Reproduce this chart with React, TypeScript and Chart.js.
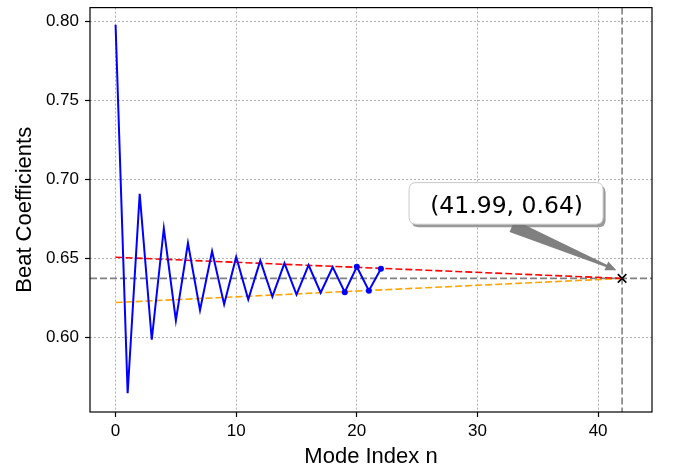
import React, { useEffect, useRef } from 'react';
import { Chart, registerables } from 'chart.js';

Chart.register(...registerables);

// ---- data ----
const modeIndex = [0, 1, 2, 3, 4, 5, 6, 7, 8, 9, 10, 11, 12, 13, 14, 15, 16, 17, 18, 19, 20, 21, 22];
const beatCoefficients = [
  0.798, 0.5644, 0.6908, 0.5983, 0.6689, 0.6106, 0.6596, 0.6171, 0.6544, 0.6208, 0.6508, 0.6238,
  0.6485, 0.6256, 0.6469, 0.6269, 0.6456, 0.6281, 0.6444, 0.6285, 0.6446, 0.6294, 0.6433,
];
const markedFromIndex = 19;
const envelopeX = [0, 41.99];
const upperEnvelope = [0.6506, 0.6372];
const lowerEnvelope = [0.6219, 0.6372];
const limitX = 41.99;
const limitY = 0.6372;
const limitLabel = '(41.99, 0.64)';
const xTicks = [0, 10, 20, 30, 40];
const yTicks = [0.6, 0.65, 0.7, 0.75, 0.8];
const xLimits = [-2.12, 44.47];
const yLimits = [0.5525, 0.8089];
const xTitle = 'Mode Index n';
const yTitle = 'Beat Coefficients';

const SANS = "'Liberation Sans', Arial, sans-serif";

function roundRectPath(ctx: CanvasRenderingContext2D, x: number, y: number, w: number, h: number, r: number) {
  ctx.beginPath();
  ctx.moveTo(x + r, y);
  ctx.lineTo(x + w - r, y);
  ctx.quadraticCurveTo(x + w, y, x + w, y + r);
  ctx.lineTo(x + w, y + h - r);
  ctx.quadraticCurveTo(x + w, y + h, x + w - r, y + h);
  ctx.lineTo(x + r, y + h);
  ctx.quadraticCurveTo(x, y + h, x, y + h - r);
  ctx.lineTo(x, y + r);
  ctx.quadraticCurveTo(x, y, x + r, y);
  ctx.closePath();
}

const overlayPlugin = {
  id: 'overlay',
  beforeDatasetsDraw(chart: any) {
    const { ctx, chartArea: a, scales } = chart;
    const px = scales.x.getPixelForValue(limitX);
    const py = scales.y.getPixelForValue(limitY);
    ctx.save();
    ctx.beginPath();
    ctx.rect(a.left, a.top, a.right - a.left, a.bottom - a.top);
    ctx.clip();
    ctx.strokeStyle = '#808080';
    ctx.lineWidth = 1.6;
    ctx.setLineDash([7, 3]);
    ctx.beginPath();
    ctx.moveTo(a.left, py);
    ctx.lineTo(a.right, py);
    ctx.stroke();
    ctx.beginPath();
    ctx.moveTo(px, a.top);
    ctx.lineTo(px, a.bottom);
    ctx.stroke();
    ctx.restore();
  },
  afterDraw(chart: any) {
    const { ctx, chartArea: a, scales } = chart;
    // frame
    ctx.save();
    ctx.strokeStyle = '#000';
    ctx.lineWidth = 1.2;
    ctx.setLineDash([]);
    ctx.strokeRect(a.left, a.top, a.right - a.left, a.bottom - a.top);
    ctx.restore();

    // annotation
    const px = scales.x.getPixelForValue(limitX);
    const py = scales.y.getPixelForValue(limitY);
    const tip = { x: px - 5.6, y: py - 8.2 };
    const base = { x: px - 110, y: py - 52.5 };
    const dx = tip.x - base.x;
    const dy = tip.y - base.y;
    const len = Math.hypot(dx, dy);
    const ux = dx / len, uy = dy / len;
    const nx = -uy, ny = ux;
    const neck = { x: tip.x - ux * 11, y: tip.y - uy * 11 };
    const w0 = 6.5, w1 = 1.3, wh = 4.8;
    ctx.save();
    ctx.fillStyle = '#808080';
    ctx.beginPath();
    ctx.moveTo(base.x + nx * w0, base.y + ny * w0);
    ctx.lineTo(neck.x + nx * w1, neck.y + ny * w1);
    ctx.lineTo(neck.x + nx * wh, neck.y + ny * wh);
    ctx.lineTo(tip.x, tip.y);
    ctx.lineTo(neck.x - nx * wh, neck.y - ny * wh);
    ctx.lineTo(neck.x - nx * w1, neck.y - ny * w1);
    ctx.lineTo(base.x - nx * w0, base.y - ny * w0);
    ctx.closePath();
    ctx.fill();

    const bx = px - 213;
    const by = py - 95.8;
    const bw = 194;
    const bh = 41.6;
    // shadow
    roundRectPath(ctx, bx + 2.5, by + 3, bw, bh, 7);
    ctx.fillStyle = 'rgba(120,120,120,0.75)';
    ctx.fill();
    roundRectPath(ctx, bx, by, bw, bh, 7);
    ctx.fillStyle = '#ffffff';
    ctx.fill();
    ctx.strokeStyle = '#c8c8c8';
    ctx.lineWidth = 1;
    ctx.stroke();

    ctx.fillStyle = '#000';
    ctx.font = "23.5px 'DejaVu Sans', sans-serif";
    ctx.textAlign = 'center';
    ctx.textBaseline = 'alphabetic';
    ctx.fillText(limitLabel, bx + bw / 2 + 0.5, py - 65.8);
    ctx.restore();
  },
};

export default function App() {
  const ref = useRef<HTMLCanvasElement>(null);
  useEffect(() => {
    const canvas = ref.current;
    if (!canvas) return;
    const seriesPoints = modeIndex.map((n, i) => ({ x: n, y: beatCoefficients[i] }));
    const upperPoints = envelopeX.map((x, i) => ({ x, y: upperEnvelope[i] }));
    const lowerPoints = envelopeX.map((x, i) => ({ x, y: lowerEnvelope[i] }));

    const chart = new Chart(canvas, {
      type: 'scatter',
      data: {
        datasets: [
          {
            label: 'limit',
            data: [{ x: limitX, y: limitY }],
            pointStyle: 'crossRot',
            pointRadius: 6,
            borderColor: '#000',
            backgroundColor: '#000',
            pointBorderWidth: 1.6,
            showLine: false,
          },
          {
            label: 'beat',
            data: seriesPoints,
            showLine: true,
            borderColor: '#0000ff',
            backgroundColor: '#0000ff',
            borderWidth: 2,
            tension: 0,
            pointRadius: (c: any) => (c.dataIndex >= markedFromIndex ? 3 : 0),
            pointBorderWidth: 0,
            pointBackgroundColor: '#0000ff',
          },
          {
            label: 'upper',
            data: upperPoints,
            showLine: true,
            borderColor: '#ff0000',
            borderWidth: 1.6,
            borderDash: [7, 3],
            pointRadius: 0,
          },
          {
            label: 'lower',
            data: lowerPoints,
            showLine: true,
            borderColor: '#ffa500',
            borderWidth: 1.6,
            borderDash: [7, 3],
            pointRadius: 0,
          },
        ],
      },
      options: {
        responsive: false,
        maintainAspectRatio: false,
        animation: false,
        events: [],
        layout: { padding: { top: 2, right: 21, bottom: 0, left: 0 } },
        plugins: { legend: { display: false }, tooltip: { enabled: false } },
        scales: {
          x: {
            type: 'linear',
            min: xLimits[0],
            max: xLimits[1],
            afterBuildTicks: (s: any) => {
              s.ticks = xTicks.map((v) => ({ value: v }));
            },
            afterFit: (s: any) => {
              s.height = 62;
              s.paddingLeft = 0;
              s.paddingRight = 0;
            },
            grid: {
              color: '#b0b0b0',
              lineWidth: 1,
              drawTicks: true,
              tickLength: 5,
              tickColor: '#000',
              tickWidth: 1.2,
            },
            border: { display: false, dash: [2, 2] },
            ticks: {
              color: '#000',
              font: { family: SANS, size: 17 },
              padding: 4,
              maxRotation: 0,
              callback: (v: any) => String(v),
            },
            title: {
              display: true,
              text: xTitle,
              color: '#000',
              font: { family: SANS, size: 22 },
              padding: { top: 0, bottom: 4 },
            },
          },
          y: {
            type: 'linear',
            min: yLimits[0],
            max: yLimits[1],
            afterBuildTicks: (s: any) => {
              s.ticks = yTicks.map((v) => ({ value: v }));
            },
            afterFit: (s: any) => {
              s.width = 90;
              s.paddingTop = 0;
              s.paddingBottom = 0;
            },
            grid: {
              color: '#b0b0b0',
              lineWidth: 1,
              drawTicks: true,
              tickLength: 5,
              tickColor: '#000',
              tickWidth: 1.2,
            },
            border: { display: false, dash: [2, 2] },
            ticks: {
              color: '#000',
              font: { family: SANS, size: 17 },
              padding: 6,
              callback: (v: any) => Number(v).toFixed(2),
            },
            title: {
              display: true,
              text: yTitle,
              color: '#000',
              font: { family: SANS, size: 22 },
              padding: { top: 12, bottom: 0 },
            },
          },
        },
      },
      plugins: [overlayPlugin],
    } as any);
    return () => chart.destroy();
  }, []);

  return (
    <div style={{ position: 'absolute', left: 0, top: 0, width: 673, height: 474, background: '#fff' }}>
      <canvas ref={ref} width={673} height={474} style={{ display: 'block', width: 673, height: 474 }} />
    </div>
  );
}
